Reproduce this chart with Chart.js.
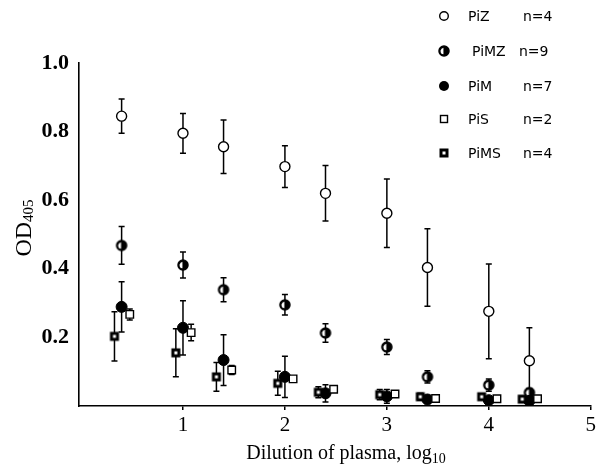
<!DOCTYPE html>
<html>
<head>
<meta charset="utf-8">
<script src="https://cdn.jsdelivr.net/npm/chart.js@4.4.0/dist/chart.umd.min.js"></script>
<style>
  html, body { margin: 0; padding: 0; background: #fff; }
  #wrap { width: 599px; height: 471px; position: relative; }
</style>
</head>
<body>
<div id="wrap"><canvas id="c" width="599" height="471"></canvas></div>
<script>
// ---- Data ----
const dilutionLog = [0.398, 1, 1.398, 2, 2.398, 3, 3.398, 4, 4.398];
const xTickValues = [1, 2, 3, 4, 5];
const yTickValues = [0.2, 0.4, 0.6, 0.8, 1.0];

const seriesNames = ['PiZ', 'PiMZ', 'PiM', 'PiS', 'PiMS'];
const seriesN = ['n=4', 'n=9', 'n=7', 'n=2', 'n=4'];

const piZ      = [0.845, 0.795, 0.756, 0.698, 0.620, 0.562, 0.404, 0.276, 0.132];
const piZErr   = [0.050, 0.058, 0.078, 0.061, 0.081, 0.100, 0.113, 0.138, 0.096];
const piMZ     = [0.468, 0.411, 0.339, 0.295, 0.213, 0.172, 0.085, 0.061, 0.039];
const piMZErr  = [0.055, 0.038, 0.035, 0.030, 0.027, 0.022, 0.018, 0.018, 0.012];
const piM      = [0.289, 0.228, 0.134, 0.085, 0.037, 0.028, 0.019, 0.017, 0.015];
const piMErr   = [0.073, 0.079, 0.074, 0.060, 0.025, 0.020, 0.012, 0.010, 0.010];
const piS      = [0.267, 0.214, 0.105, 0.079, 0.049, 0.035, 0.022, 0.021, 0.021];
const piSErr   = [0.016, 0.024, 0.013, 0, 0, 0, 0, 0, 0];
const piMS     = [0.203, 0.155, 0.085, 0.066, 0.040, 0.033, 0.027, 0.027, 0.020];
const piMSErr  = [0.072, 0.070, 0.042, 0.035, 0.016, 0.015, 0.010, 0.008, 0.008];

// small horizontal offsets used in the figure to separate groups (in log units)
const offsetMS = -0.07, offsetS = 0.08;

// ---- Marker images ----
function makeMarker(kind) {
  const s = 14, c = document.createElement('canvas');
  c.width = s; c.height = s;
  const g = c.getContext('2d');
  g.lineWidth = 1.5; g.strokeStyle = '#000';
  if (kind === 'halfCircle') {
    const r = 5;
    g.beginPath(); g.arc(7, 7, r, 0, Math.PI * 2); g.fillStyle = '#000'; g.fill();
    g.beginPath(); g.arc(7, 7, r - 1.6, Math.PI * 0.55, Math.PI * 1.45); g.closePath();
    g.fillStyle = '#fff'; g.fill();
    g.beginPath(); g.arc(7, 7, r, 0, Math.PI * 2); g.stroke();
  } else if (kind === 'halfSquare') {
    g.fillStyle = '#000'; g.fillRect(2.5, 2.5, 9, 9);
    g.fillStyle = '#fff'; g.fillRect(5.5, 5.5, 3, 3);
  }
  return c;
}
const mkHalfCircle = makeMarker('halfCircle');
const mkHalfSquare = makeMarker('halfSquare');

function pts(values, off) {
  return dilutionLog.map((d, i) => ({ x: d + off, y: values[i] }));
}

const datasets = [
  { label: 'PiMS', data: pts(piMS, offsetMS), errors: piMSErr, pointStyle: mkHalfSquare, pointRadius: 5 },
  { label: 'PiS',  data: pts(piS, offsetS),  errors: piSErr,  pointStyle: 'rect', pointRadius: 5.3,
    backgroundColor: '#fff', borderColor: '#000', pointBorderWidth: 1.4 },
  { label: 'PiM',  data: pts(piM, 0),   errors: piMErr,  pointStyle: 'circle', pointRadius: 5.5,
    backgroundColor: '#000', borderColor: '#000', pointBorderWidth: 1 },
  { label: 'PiMZ', data: pts(piMZ, 0),  errors: piMZErr, pointStyle: mkHalfCircle, pointRadius: 5 },
  { label: 'PiZ',  data: pts(piZ, 0),   errors: piZErr,  pointStyle: 'circle', pointRadius: 5,
    backgroundColor: '#fff', borderColor: '#000', pointBorderWidth: 1.4 }
];
datasets.forEach(d => { d.showLine = false; d.pointHoverRadius = d.pointRadius; });

const legendStyles = {
  PiZ: 'circle', PiMZ: mkHalfCircle, PiM: 'circleFilled', PiS: 'rect', PiMS: mkHalfSquare
};

// ---- Plugins ----
const errorBars = {
  id: 'errorBars',
  beforeDatasetsDraw(chart) {
    const ctx = chart.ctx, xs = chart.scales.x, ys = chart.scales.y;
    ctx.save();
    ctx.strokeStyle = '#000'; ctx.lineWidth = 1.5;
    chart.data.datasets.forEach(ds => {
      ds.data.forEach((p, i) => {
        const e = ds.errors[i];
        if (!e) return;
        const px = xs.getPixelForValue(p.x);
        const yt = ys.getPixelForValue(Math.min(1, p.y + e));
        const yb = ys.getPixelForValue(Math.max(0, p.y - e));
        ctx.beginPath();
        ctx.moveTo(px, yt); ctx.lineTo(px, yb);
        ctx.moveTo(px - 3, yt); ctx.lineTo(px + 3, yt);
        if (p.y - e > 0.005) { ctx.moveTo(px - 3, yb); ctx.lineTo(px + 3, yb); }
        ctx.stroke();
      });
    });
    ctx.restore();
  }
};

const decorations = {
  id: 'decorations',
  afterDraw(chart) {
    const ctx = chart.ctx;
    ctx.save();
    ctx.fillStyle = '#000';
    // X title with subscript
    const serif = '"Liberation Serif", "Times New Roman", serif';
    ctx.textBaseline = 'alphabetic';
    ctx.font = '20px ' + serif;
    const main = 'Dilution of plasma, log';
    const sub = '10';
    const wMain = ctx.measureText(main).width;
    ctx.font = '14px ' + serif;
    const wSub = ctx.measureText(sub).width;
    const cx = 346, by = 459;
    const x0 = cx - (wMain + wSub) / 2;
    ctx.font = '20px ' + serif;
    ctx.fillText(main, x0, by);
    ctx.font = '14px ' + serif;
    ctx.fillText(sub, x0 + wMain, by + 4);

    // Y title rotated with subscript
    ctx.save();
    ctx.translate(31, 228);
    ctx.rotate(-Math.PI / 2);
    ctx.font = '24px ' + serif;
    const wOD = ctx.measureText('OD').width;
    ctx.font = '15px ' + serif;
    const w405 = ctx.measureText('405').width;
    const sx = -(wOD + w405) / 2;
    ctx.font = '24px ' + serif;
    ctx.fillText('OD', sx, 0);
    ctx.font = '15px ' + serif;
    ctx.fillText('405', sx + wOD, 2);
    ctx.restore();

    // Legend
    const rows = [16, 51, 86, 119, 153];
    ctx.font = '14px "DejaVu Sans", sans-serif';
    ctx.textBaseline = 'middle';
    seriesNames.forEach((name, i) => {
      const y = rows[i], mx = 444;
      const st = legendStyles[name];
      ctx.lineWidth = 1.4; ctx.strokeStyle = '#000';
      if (st === 'circle') {
        ctx.beginPath(); ctx.arc(mx, y, 4.3, 0, Math.PI * 2); ctx.fillStyle = '#fff'; ctx.fill(); ctx.stroke();
      } else if (st === 'circleFilled') {
        ctx.beginPath(); ctx.arc(mx, y, 5, 0, Math.PI * 2); ctx.fillStyle = '#000'; ctx.fill();
      } else if (st === 'rect') {
        ctx.fillStyle = '#fff'; ctx.fillRect(mx - 3.5, y - 3.5, 7, 7); ctx.strokeRect(mx - 3.5, y - 3.5, 7, 7);
      } else {
        ctx.drawImage(st, mx - 7, y - 7);
      }
      ctx.fillStyle = '#000';
      ctx.fillText(name, name === 'PiMZ' ? 472 : 468, y + 1);
      ctx.fillText(seriesN[i], name === 'PiMZ' ? 519 : 523, y + 1);
    });
    ctx.restore();
  }
};

new Chart(document.getElementById('c'), {
  type: 'scatter',
  data: { datasets },
  options: {
    responsive: false,
    animation: false,
    devicePixelRatio: 1,
    layout: { padding: { left: 0, right: 4, top: 63, bottom: 0 } },
    plugins: { legend: { display: false }, tooltip: { enabled: false } },
    scales: {
      x: {
        type: 'linear', min: -0.02, max: 5,
        afterBuildTicks: s => { s.ticks = xTickValues.map(v => ({ value: v })); },
        afterFit: s => { s.height = 65; },
        ticks: {
          color: '#000', padding: 3,
          font: { family: '"Liberation Serif", "Times New Roman", serif', size: 21 },
          callback: v => String(v)
        },
        grid: { drawOnChartArea: false, drawTicks: true, tickLength: 4, color: '#000', lineWidth: 1.5 },
        border: { display: true, color: '#000', width: 1.6 }
      },
      y: {
        type: 'linear', min: 0, max: 1.0,
        afterBuildTicks: s => { s.ticks = yTickValues.map(v => ({ value: v })); },
        afterFit: s => { s.width = 79; },
        ticks: {
          color: '#000', padding: 10,
          font: { family: '"Liberation Serif", "Times New Roman", serif', size: 22, weight: 'bold' },
          callback: v => Number(v).toFixed(1)
        },
        grid: { drawOnChartArea: false, drawTicks: false },
        border: { display: true, color: '#000', width: 1.6 }
      }
    }
  },
  plugins: [errorBars, decorations]
});
</script>
</body>
</html>
